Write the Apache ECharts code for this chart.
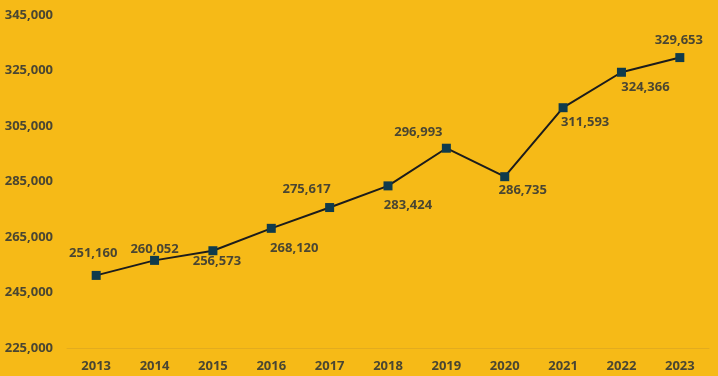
<!DOCTYPE html>
<html>
<head>
<meta charset="utf-8">
<script src="https://cdn.jsdelivr.net/npm/echarts@6/dist/echarts.min.js"></script>
<style>
  html, body { margin: 0; padding: 0; background: #F6BA17; }
  #main { width: 718px; height: 376px; }
</style>
</head>
<body>
<div id="main"></div>
<script>
// years and values
var years = ['2013', '2014', '2015', '2016', '2017', '2018', '2019', '2020', '2021', '2022', '2023'];
// heights of the plotted points (2014 and 2015 sit swapped against their printed labels)
var values = [251160, 256573, 260052, 268120, 275617, 283424, 296993, 286735, 311593, 324366, 329653];
// numbers printed next to each point
var labelNumbers = [251160, 260052, 256573, 268120, 275617, 283424, 296993, 286735, 311593, 324366, 329653];

// label shift from its point, in px
var labelShift = [[-3, -22], [0, -11], [4, 11], [23, 20], [-23, -18], [20, 19],
                  [-28, -16], [18, 14], [22, 15], [24, 15], [-1, -17]];

var myChart = echarts.init(document.getElementById('main'));

var textColor = '#4a4632';
var fontFam = '"Open Sans", "Noto Sans", sans-serif';

var seriesData = values.map(function (v, i) {
    return {
        value: v,
        label: {
            position: 'inside',
            offset: labelShift[i],
            formatter: labelNumbers[i].toLocaleString('en-US')
        }
    };
});

var option = {
    backgroundColor: '#F6BA17',
    animation: false,
    grid: { left: 67, right: 9, top: 15, bottom: 28 },
    xAxis: {
        type: 'category',
        data: years,
        boundaryGap: true,
        axisLine: { lineStyle: { color: '#E3AC1E', width: 1 } },
        axisTick: { show: false },
        axisLabel: {
            color: textColor, fontWeight: 'bold', fontSize: 13,
            fontFamily: fontFam, margin: 12
        }
    },
    yAxis: {
        type: 'value',
        min: 225000,
        max: 345000,
        interval: 20000,
        splitLine: { show: false },
        axisLine: { show: false },
        axisTick: { show: false },
        axisLabel: {
            color: textColor, fontWeight: 'bold', fontSize: 13,
            fontFamily: fontFam, margin: 14,
            formatter: function (v) { return v.toLocaleString('en-US'); }
        }
    },
    series: [{
        type: 'line',
        data: seriesData,
        symbol: 'rect',
        symbolSize: 9,
        lineStyle: { color: '#1c1c1c', width: 2 },
        itemStyle: { color: '#0f3b4c' },
        label: {
            show: true,
            color: textColor,
            fontWeight: 'bold',
            fontSize: 13,
            fontFamily: fontFam
        }
    }]
};

myChart.setOption(option);
</script>
</body>
</html>
